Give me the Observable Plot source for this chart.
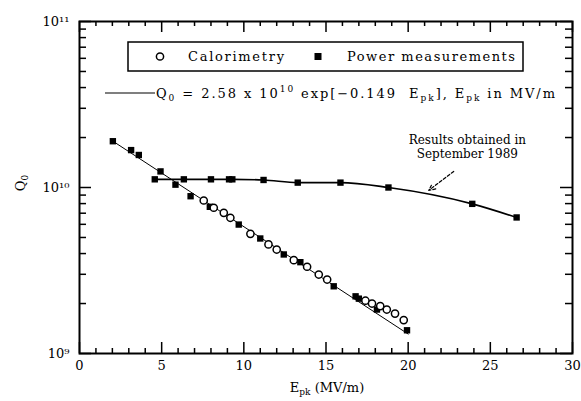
<!DOCTYPE html>
<html><head><meta charset="utf-8">
<script src="https://cdn.jsdelivr.net/npm/d3@7"></script>
<script src="https://cdn.jsdelivr.net/npm/@observablehq/plot@0.6"></script>
<style>body{margin:0;background:#fff}</style>
</head><body><div id="chart"></div>
<script>
// Power measurements (filled), steep series
const powerE = [2.03,3.14,3.61,4.93,5.84,6.76,7.93,9.69,11.0,12.43,13.44,15.47,16.8,17.0,18.1,19.93];
const powerQ = [1.9e10,1.68e10,1.57e10,1.25e10,1.04e10,8.86e9,7.65e9,5.98e9,4.93e9,3.95e9,3.55e9,2.54e9,2.21e9,2.14e9,1.84e9,1.38e9];
// Calorimetry (open)
const caloE = [7.56,8.17,8.78,9.18,10.4,11.5,12.0,13.04,13.85,14.56,15.07,17.4,17.8,18.3,18.7,19.2,19.73];
const caloQ = [8.35e9,7.55e9,7.04e9,6.57e9,5.26e9,4.54e9,4.23e9,3.65e9,3.33e9,2.99e9,2.79e9,2.08e9,2.0e9,1.93e9,1.84e9,1.74e9,1.59e9];
// Results obtained in September 1989 (filled, connected)
const sepE = [4.58,6.35,8.0,9.1,9.3,11.2,13.28,15.88,18.8,23.9,26.6];
const sepQ = [1.12e10,1.12e10,1.12e10,1.12e10,1.12e10,1.11e10,1.07e10,1.07e10,1.0e10,7.97e9,6.6e9];
// Fit line endpoints
const fitE = [2, 20];
const fitQ = [1.91e10, 1.31e9];
// Ticks
const xMajor = [0,5,10,15,20,25,30];
const xMinor = [1,2,3,4,6,7,8,9,11,12,13,14,16,17,18,19,21,22,23,24,26,27,28,29];
const yMajor = [1e9,1e10,1e11];
const yMinor = [2e9,3e9,4e9,5e9,6e9,7e9,8e9,9e9,2e10,3e10,4e10,5e10,6e10,7e10,8e10,9e10];
const yTickLabels = ["10⁹","10¹⁰","10¹¹"];
// Annotation
const annoE = [23.6], annoQ = [1.76e10], annoText = ["Results obtained in\nSeptember 1989"];
const arrowE1 = [22.77], arrowQ1 = [1.25e10], arrowE2 = [21.25], arrowQ2 = [9.6e9];

const W=581, H=401, mL=79, mR=9, mT=21, mB=48;
const pw = W-mL-mR, ph = H-mT-mB;
const FONT = "DejaVu Serif, Liberation Serif, serif";

const power = powerE.map((e,i)=>({e, q: powerQ[i]}));
const calo = caloE.map((e,i)=>({e, q: caloQ[i]}));
const sep = sepE.map((e,i)=>({e, q: sepQ[i]}));
const fit = fitE.map((e,i)=>({e, q: fitQ[i]}));

const plot = Plot.plot({
  width: W, height: H,
  marginLeft: mL, marginRight: mR, marginTop: mT, marginBottom: mB,
  style: {fontFamily: FONT, fontSize: "13px", color: "#000", background: "#fff"},
  x: {domain: [0,30], axis: null},
  y: {type: "log", domain: [1e9,1e11], axis: null},
  marks: [
    Plot.frame({stroke: "#000", strokeWidth: 2}),
    Plot.tickX(xMajor, {x: d=>d, insetTop: ph-11, strokeWidth: 1.5}),
    Plot.tickX(xMinor, {x: d=>d, insetTop: ph-5, strokeWidth: 1.5}),
    Plot.tickX(xMajor, {x: d=>d, insetBottom: ph-11, strokeWidth: 1.5}),
    Plot.tickX(xMinor, {x: d=>d, insetBottom: ph-5, strokeWidth: 1.5}),
    Plot.tickY(yMajor, {y: d=>d, insetRight: pw-12, strokeWidth: 1.5}),
    Plot.tickY(yMinor, {y: d=>d, insetRight: pw-7, strokeWidth: 1.5}),
    Plot.tickY(yMajor, {y: d=>d, insetLeft: pw-12, strokeWidth: 1.5}),
    Plot.tickY(yMinor, {y: d=>d, insetLeft: pw-7, strokeWidth: 1.5}),
    Plot.axisX({ticks: xMajor, tickSize: 0, tickPadding: 7, label: null, fontSize: 13}),
    Plot.axisY({ticks: yMajor, tickSize: 0, tickPadding: 10, label: null, fontSize: 13,
      tickFormat: d => yTickLabels[yMajor.indexOf(d)]}),
    Plot.line(fit, {x: "e", y: "q", stroke: "#000", strokeWidth: 1}),
    Plot.line(sep, {x: "e", y: "q", stroke: "#000", strokeWidth: 1.6, curve: "monotone-x"}),
    Plot.dot(sep, {x: "e", y: "q", symbol: "square", r: 3.6, fill: "#000", stroke: "none"}),
    Plot.dot(power, {x: "e", y: "q", symbol: "square", r: 3.6, fill: "#000", stroke: "none"}),
    Plot.dot(calo, {x: "e", y: "q", symbol: "circle", r: 3.6, fill: "#fff", stroke: "#000", strokeWidth: 1.5}),
    Plot.text(annoText, {x: annoE, y: annoQ, text: d=>d, fontSize: 12, lineHeight: 1.15, fill: "#000"}),
    Plot.arrow([0], {x1: arrowE1, y1: arrowQ1, x2: arrowE2, y2: arrowQ2, stroke: "#000",
      strokeWidth: 1.2, strokeDasharray: "3,2", headLength: 9, headAngle: 50})
  ]
});
document.getElementById("chart").appendChild(plot);

// Legend and labels
const svg = d3.select(plot);
const g = svg.append("g").attr("font-family", FONT).attr("fill", "#000").attr("text-anchor", "start");
g.append("rect").attr("x", 128).attr("y", 42).attr("width", 395).attr("height", 29)
  .attr("fill", "#fff").attr("stroke", "#000").attr("stroke-width", 1.5);
g.append("circle").attr("cx", 160).attr("cy", 56.5).attr("r", 3.6)
  .attr("fill", "#fff").attr("stroke", "#000").attr("stroke-width", 1.5);
g.append("text").attr("x", 188).attr("y", 61).attr("font-size", 13)
  .attr("textLength", 96).attr("lengthAdjust", "spacing").text("Calorimetry");
g.append("rect").attr("x", 314.5).attr("y", 53).attr("width", 7).attr("height", 7).attr("fill", "#000");
g.append("text").attr("x", 347).attr("y", 61).attr("font-size", 13)
  .attr("textLength", 168).attr("lengthAdjust", "spacing").text("Power measurements");
g.append("line").attr("x1", 105).attr("x2", 155).attr("y1", 93).attr("y2", 93)
  .attr("stroke", "#000").attr("stroke-width", 1.2);
const ft = g.append("text").attr("x", 156).attr("y", 98).attr("font-size", 13)
  .attr("textLength", 399).attr("lengthAdjust", "spacing");
ft.append("tspan").text("Q");
ft.append("tspan").attr("font-size", 9).attr("dy", 3).text("0");
ft.append("tspan").attr("dy", -3).text(" = 2.58 x 10");
ft.append("tspan").attr("font-size", 9).attr("dy", -6).text("10");
ft.append("tspan").attr("dy", 6).text(" exp[\u22120.149  E");
ft.append("tspan").attr("font-size", 9).attr("dy", 3).text("pk");
ft.append("tspan").attr("dy", -3).text("], E");
ft.append("tspan").attr("font-size", 9).attr("dy", 3).text("pk");
ft.append("tspan").attr("dy", -3).text(" in MV/m");

const xl = g.append("text").attr("x", 327).attr("y", 392).attr("font-size", 13).attr("text-anchor", "middle");
xl.append("tspan").text("E");
xl.append("tspan").attr("font-size", 9).attr("dy", 3).text("pk");
xl.append("tspan").attr("dy", -3).text(" (MV/m)");
const yl = g.append("text").attr("transform", "translate(25,183) rotate(-90)").attr("font-size", 13).attr("text-anchor", "middle");
yl.append("tspan").text("Q");
yl.append("tspan").attr("font-size", 9).attr("dy", 3).text("0");
</script></body></html>
